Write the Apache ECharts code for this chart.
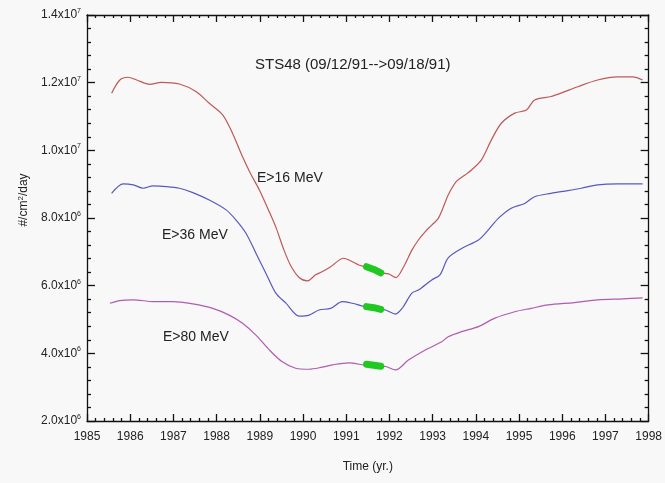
<!DOCTYPE html>
<html>
<head>
<meta charset="utf-8">
<script src="https://cdn.jsdelivr.net/npm/echarts@6/dist/echarts.min.js"></script>
<style>html,body{margin:0;padding:0;background:#f8f8f8;}#c{width:665px;height:483px;}</style>
</head>
<body>
<div id="c"></div>
<script>
// values in units of 1e6 #/cm^2/day
var redYears = [1985.57,1985.76,1985.95,1986.15,1986.45,1986.72,1987.14,1987.53,1987.83,1988.14,1988.37,1988.60,1988.79,1988.99,1989.22,1989.38,1989.56,1989.72,1989.91,1990.10,1990.29,1990.44,1990.64,1990.94,1991.11,1991.29,1991.44,1991.64,1991.83,1991.98,1992.15,1992.33,1992.52,1992.67,1992.83,1992.98,1993.13,1993.25,1993.36,1993.55,1993.75,1993.90,1994.13,1994.36,1994.59,1994.90,1995.17,1995.36,1995.74,1995.97,1996.36,1996.82,1997.28,1997.63,1997.86];
var redVals  = [11.69,12.08,12.16,12.08,11.95,12.01,11.96,11.73,11.39,11.05,10.50,9.81,9.30,8.83,8.18,7.70,7.05,6.58,6.24,6.14,6.32,6.41,6.56,6.81,6.73,6.61,6.56,6.48,6.37,6.35,6.24,6.56,7.05,7.35,7.60,7.79,7.99,8.33,8.68,9.08,9.27,9.42,9.72,10.31,10.80,11.10,11.19,11.49,11.59,11.69,11.88,12.08,12.17,12.17,12.08];

var blueYears = [1985.57,1985.84,1986.07,1986.30,1986.53,1986.84,1987.14,1987.45,1987.83,1988.22,1988.45,1988.68,1988.91,1989.14,1989.37,1989.60,1989.91,1990.14,1990.37,1990.64,1990.91,1991.14,1991.44,1991.91,1992.14,1992.30,1992.52,1992.67,1992.98,1993.17,1993.36,1993.67,1994.06,1994.29,1994.52,1994.82,1995.13,1995.36,1995.74,1996.13,1996.44,1996.82,1997.28,1997.86];
var blueVals  = [8.73,9.01,8.98,8.88,8.95,8.93,8.88,8.75,8.53,8.24,7.94,7.55,6.96,6.37,5.78,5.49,5.10,5.13,5.28,5.33,5.53,5.48,5.38,5.28,5.16,5.34,5.78,5.87,6.17,6.32,6.82,7.10,7.35,7.65,7.99,8.29,8.43,8.63,8.73,8.81,8.88,8.98,9.01,9.01];

var purpleYears = [1985.53,1985.76,1986.07,1986.53,1986.99,1987.45,1987.91,1988.29,1988.60,1988.91,1989.22,1989.52,1989.83,1990.14,1990.44,1990.68,1991.06,1991.47,1991.91,1992.14,1992.44,1992.83,1993.21,1993.36,1993.67,1994.06,1994.44,1994.90,1995.28,1995.67,1996.28,1996.82,1997.40,1997.86];
var purpleVals  = [5.48,5.56,5.58,5.53,5.53,5.46,5.33,5.13,4.89,4.54,4.10,3.75,3.56,3.53,3.59,3.66,3.72,3.64,3.61,3.51,3.80,4.10,4.34,4.49,4.64,4.79,5.04,5.23,5.33,5.43,5.50,5.58,5.61,5.64];

// STS48 mission (09/12/91 -> 09/18/91) markers
var stsYears = [1991.47,1991.64,1991.80];
var stsRed = [6.56,6.48,6.38];
var stsBlue = [5.38,5.35,5.30];
var stsPurple = [3.68,3.65,3.62];

var yTickLabels = {2:'2.0x10{s|6}',4:'4.0x10{s|6}',6:'6.0x10{s|6}',8:'8.0x10{s|6}',10:'1.0x10{s|7}',12:'1.2x10{s|7}',14:'1.4x10{s|7}'};
var seriesLabels = ['E>16 MeV','E>36 MeV','E>80 MeV'];
var titleText = 'STS48 (09/12/91-->09/18/91)';

function pairs(xs, ys){ return xs.map(function(x,i){ return [x, ys[i]]; }); }

var font = 'Liberation Sans, Arial, sans-serif';
var chart = echarts.init(document.getElementById('c'));

function lineSeries(xs, ys, color){
  return {type:'line', data:pairs(xs,ys), showSymbol:false, smooth:0.3, lineStyle:{color:color,width:1.2}, silent:true, z:2};
}
function stsSeries(xs, ys){
  return {type:'line', data:pairs(xs,ys), showSymbol:false, lineStyle:{color:'#22c822',width:7,cap:'round'}, silent:true, z:3};
}

var lineBlack = {color:'#111',width:1.3};

chart.setOption({
  backgroundColor:'#f8f8f8',
  animation:false,
  title:{text:titleText,left:250,top:52,textStyle:{fontFamily:font,fontSize:15,fontWeight:'normal',color:'#222'}},
  grid:{left:87,right:14,top:15,bottom:62},
  xAxis:[
    {type:'value',min:1985,max:1998,interval:1,position:'bottom',
      name:'Time (yr.)',nameLocation:'middle',nameGap:40,
      nameTextStyle:{fontFamily:font,fontSize:12,color:'#222'},
      axisLine:{show:true,lineStyle:lineBlack},
      axisTick:{show:true,inside:true,length:7,lineStyle:lineBlack},
      minorTick:{show:true,splitNumber:5,length:3,lineStyle:lineBlack},
      splitLine:{show:false},
      axisLabel:{fontFamily:font,fontSize:12,color:'#222',margin:10,formatter:function(v){return String(v);}}},
    {type:'value',min:1985,max:1998,interval:1,position:'top',
      axisLine:{show:true,lineStyle:lineBlack},
      axisTick:{show:true,inside:true,length:7,lineStyle:lineBlack},
      minorTick:{show:true,splitNumber:5,length:3,lineStyle:lineBlack},
      splitLine:{show:false},
      axisLabel:{show:false}}
  ],
  yAxis:[
    {type:'value',min:2,max:14,interval:2,position:'left',
      name:'#/cm{s|2}/day',nameLocation:'middle',nameGap:56,
      nameTextStyle:{fontFamily:font,fontSize:12,color:'#222',padding:[0,0,0,36],rich:{s:{fontSize:8,verticalAlign:'top',padding:[0,0,6,0]}}},
      axisLine:{show:true,lineStyle:lineBlack},
      axisTick:{show:true,inside:true,length:8,lineStyle:lineBlack},
      minorTick:{show:true,splitNumber:5,length:4,lineStyle:lineBlack},
      splitLine:{show:false},
      axisLabel:{fontFamily:font,fontSize:12,color:'#222',margin:6,
        formatter:function(v){ return yTickLabels[v] || ''; },
        rich:{s:{fontSize:7,color:'#222',fontFamily:font,padding:[0,0,8,0]}}}},
    {type:'value',min:2,max:14,interval:2,position:'right',
      axisLine:{show:true,lineStyle:lineBlack},
      axisTick:{show:true,inside:true,length:8,lineStyle:lineBlack},
      minorTick:{show:true,splitNumber:5,length:4,lineStyle:lineBlack},
      splitLine:{show:false},
      axisLabel:{show:false}}
  ],
  series:[
    lineSeries(redYears, redVals, '#c05858'),
    lineSeries(blueYears, blueVals, '#5858c0'),
    lineSeries(purpleYears, purpleVals, '#b05cb0'),
    stsSeries(stsYears, stsRed),
    stsSeries(stsYears, stsBlue),
    stsSeries(stsYears, stsPurple)
  ],
  graphic:[
    {type:'text',left:257,top:171,style:{text:seriesLabels[0],font:'14px '+font,fill:'#222'}},
    {type:'text',left:162,top:228,style:{text:seriesLabels[1],font:'14px '+font,fill:'#222'}},
    {type:'text',left:163,top:330,style:{text:seriesLabels[2],font:'14px '+font,fill:'#222'}}
  ]
});
</script>
</body>
</html>
